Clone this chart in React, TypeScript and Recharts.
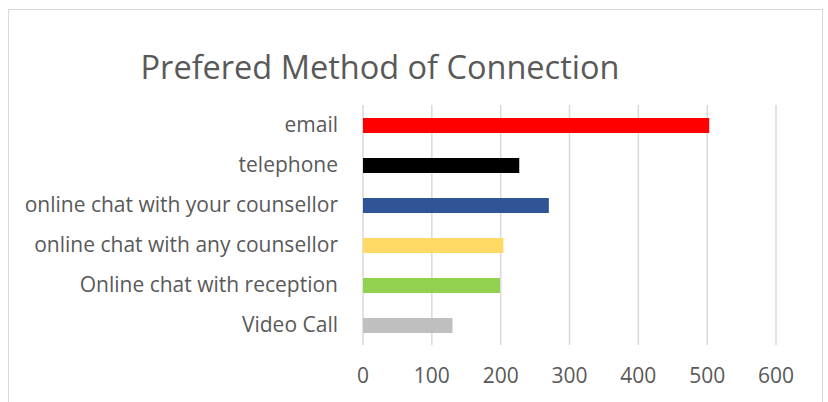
import React from "react";
import { BarChart, Bar, XAxis, YAxis, CartesianGrid, Cell } from "recharts";

const categories = [
  "email",
  "telephone",
  "online chat with your counsellor",
  "online chat with any counsellor",
  "Online chat with reception",
  "Video Call",
];
const values = [503, 227, 270, 204, 199, 130];
const colors = ["#FF0000", "#000000", "#2F5597", "#FFD966", "#92D050", "#BFBFBF"];
const xTicks = [0, 100, 200, 300, 400, 500, 600];
const title = "Prefered Method of Connection";

const data = categories.map((name, i) => ({ name, value: values[i] }));

const FONT = "'Open Sans', sans-serif";
const TEXT = "#595959";

export default function App() {
  return (
    <div
      style={{
        position: "absolute",
        left: 0,
        top: 0,
        width: 828,
        height: 402,
        overflow: "hidden",
        background: "#fff",
        fontFamily: FONT,
      }}
    >
      <div
        style={{
          position: "absolute",
          left: 8,
          top: 9,
          width: 815,
          height: 500,
          border: "1px solid #D9D9D9",
          boxSizing: "border-box",
        }}
      />
      <div
        style={{
          position: "absolute",
          left: 0,
          width: 760,
          top: 45,
          textAlign: "center",
          fontSize: 32.5,
          lineHeight: "44px",
          color: TEXT,
          whiteSpace: "nowrap",
        }}
      >
        {title}
      </div>
      <div style={{ position: "absolute", left: 0, top: 0 }}>
        <BarChart
          width={828}
          height={402}
          data={data}
          layout="vertical"
          margin={{ top: 105, right: 52, bottom: 0, left: 0 }}
        >
          <CartesianGrid horizontal={false} stroke="#D9D9D9" strokeWidth={1.5} />
          <XAxis
            type="number"
            domain={[0, 600]}
            ticks={xTicks}
            height={57}
            axisLine={false}
            tickLine={false}
            tickMargin={17}
            tick={{ fill: TEXT, fontSize: 21, fontFamily: FONT }}
            interval={0}
          />
          <YAxis
            type="category"
            dataKey="name"
            width={363}
            axisLine={false}
            tickLine={false}
            tickMargin={19}
            tick={{ fill: TEXT, fontSize: 21, fontFamily: FONT }}
            interval={0}
          />
          <Bar dataKey="value" barSize={15} isAnimationActive={false}>
            {data.map((d, i) => (
              <Cell key={d.name} fill={colors[i]} />
            ))}
          </Bar>
        </BarChart>
      </div>
    </div>
  );
}
